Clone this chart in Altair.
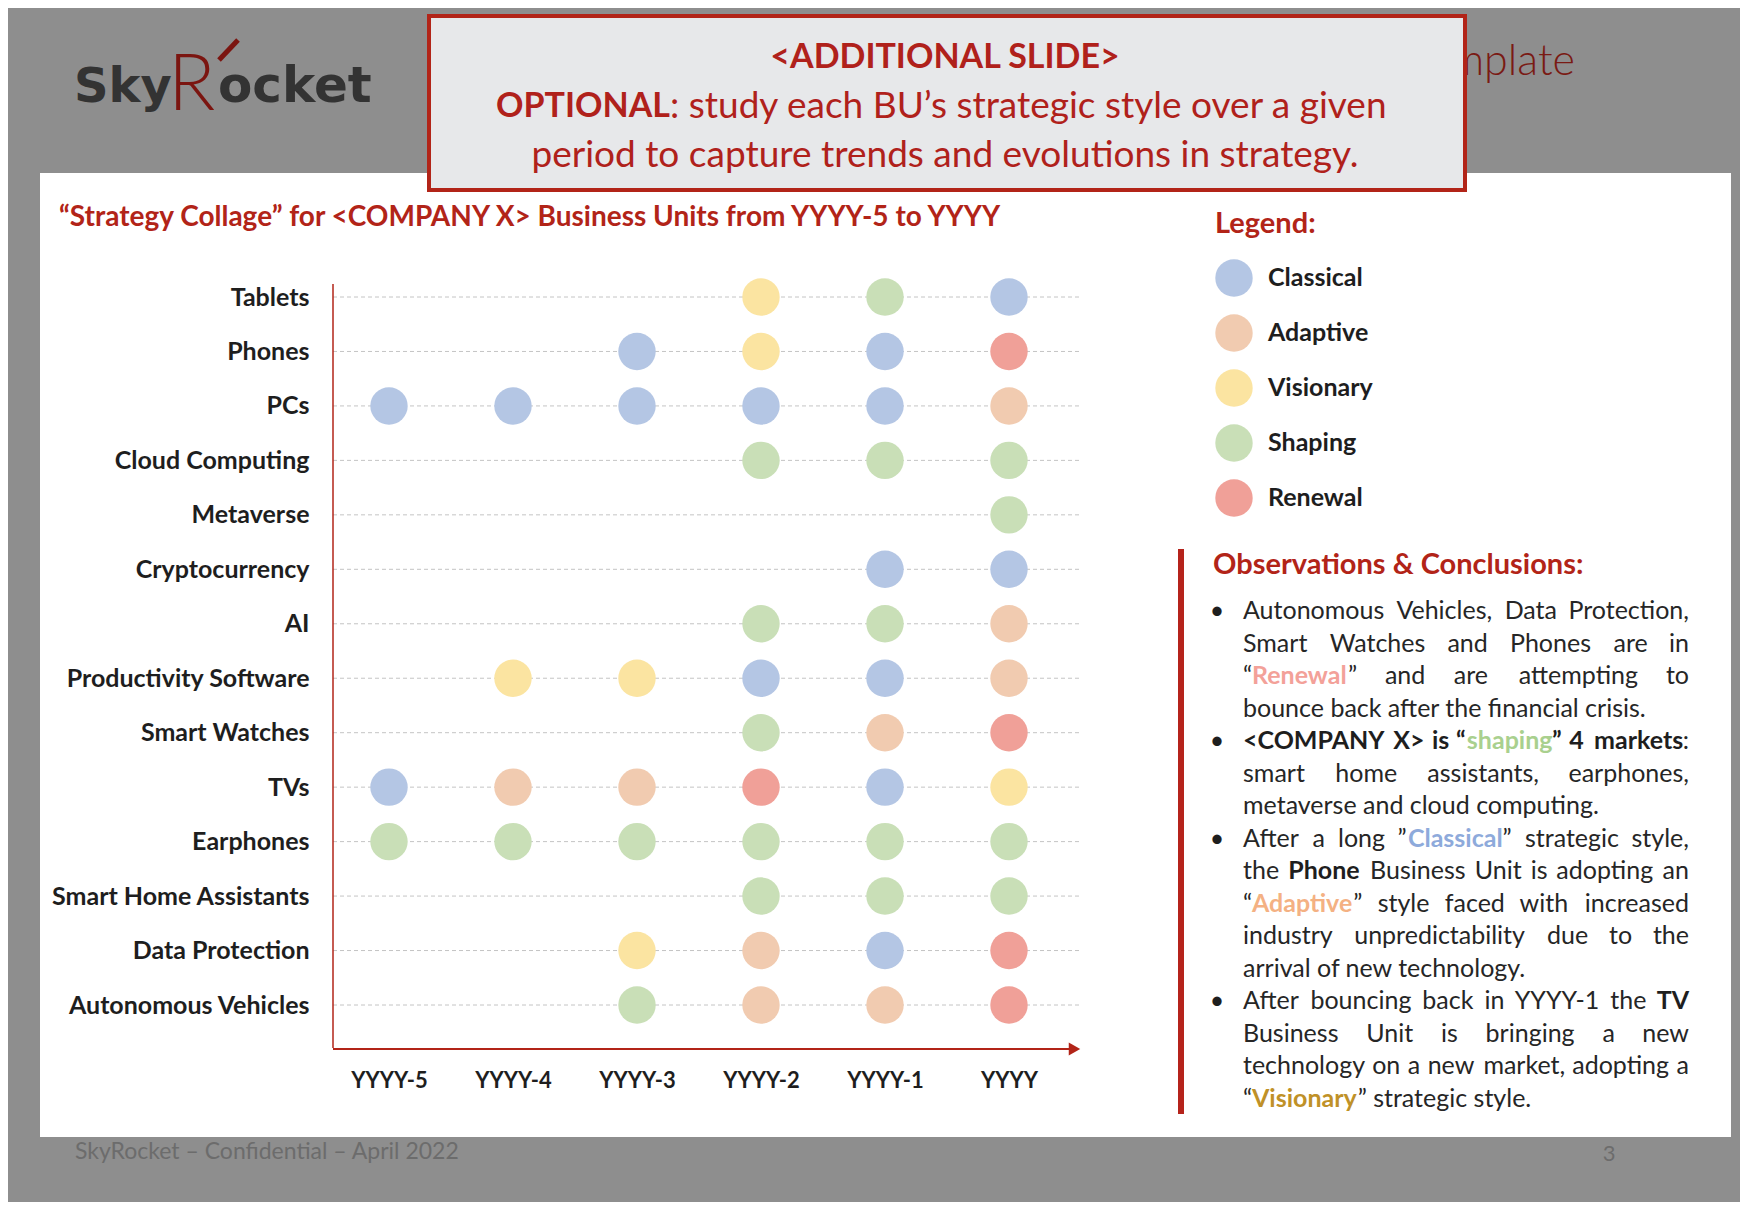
import altair as alt
import pandas as pd

# ---------------- chart values ----------------
years = ["YYYY-5", "YYYY-4", "YYYY-3", "YYYY-2", "YYYY-1", "YYYY"]
units = ["Tablets", "Phones", "PCs", "Cloud Computing", "Metaverse", "Cryptocurrency", "AI",
         "Productivity Software", "Smart Watches", "TVs", "Earphones", "Smart Home Assistants",
         "Data Protection", "Autonomous Vehicles"]
styles = ["Classical", "Adaptive", "Visionary", "Shaping", "Renewal"]
style_colors = ["#b4c6e4", "#f1cbb0", "#fbe4a1", "#c9dfb7", "#f0a098"]

tablets = [None, None, None, "Visionary", "Shaping", "Classical"]
phones = [None, None, "Classical", "Visionary", "Classical", "Renewal"]
pcs = ["Classical", "Classical", "Classical", "Classical", "Classical", "Adaptive"]
cloud = [None, None, None, "Shaping", "Shaping", "Shaping"]
metaverse = [None, None, None, None, None, "Shaping"]
crypto = [None, None, None, None, "Classical", "Classical"]
ai = [None, None, None, "Shaping", "Shaping", "Adaptive"]
productivity = [None, "Visionary", "Visionary", "Classical", "Classical", "Adaptive"]
watches = [None, None, None, "Shaping", "Adaptive", "Renewal"]
tvs = ["Classical", "Adaptive", "Adaptive", "Renewal", "Classical", "Visionary"]
earphones = ["Shaping", "Shaping", "Shaping", "Shaping", "Shaping", "Shaping"]
home_assistants = [None, None, None, "Shaping", "Shaping", "Shaping"]
data_protection = [None, None, "Visionary", "Adaptive", "Classical", "Renewal"]
autonomous = [None, None, "Shaping", "Adaptive", "Adaptive", "Renewal"]
unit_styles = [tablets, phones, pcs, cloud, metaverse, crypto, ai, productivity, watches,
               tvs, earphones, home_assistants, data_protection, autonomous]

# ---------------- texts ----------------
logo_parts = ["Sky", "R", "ocket"]
template_text = "Template"
box_line1 = "<ADDITIONAL SLIDE>"
box_line2_bold = "OPTIONAL"
box_line2_rest = ": study each BU’s strategic style over a given"
box_line3 = "period to capture trends and evolutions in strategy."
subtitle = "“Strategy Collage” for <COMPANY X> Business Units from YYYY-5 to YYYY"
legend_title = "Legend:"
obs_title = "Observations & Conclusions:"
footer = "SkyRocket – Confidential – April 2022"
page_no = "3"
obs_lines = [
    ([("Autonomous Vehicles, Data Protection,", "r")], True, True),
    ([("Smart Watches and Phones are in", "r")], True, False),
    ([("“", "r"), ("Renewal", "renewal"), ("” and are attempting to", "r")], True, False),
    ([("bounce back after the financial crisis.", "r")], False, False),
    ([("<COMPANY X> is “", "b"), ("shaping", "shaping"), ("” 4 markets", "b"), (":", "r")], True, True),
    ([("smart home assistants, earphones,", "r")], True, False),
    ([("metaverse and cloud computing.", "r")], False, False),
    ([("After a long ”", "r"), ("Classical", "classical"), ("” strategic style,", "r")], True, True),
    ([("the ", "r"), ("Phone", "b"), (" Business Unit is adopting an", "r")], True, False),
    ([("“", "r"), ("Adaptive", "adaptive"), ("” style faced with increased", "r")], True, False),
    ([("industry unpredictability due to the", "r")], True, False),
    ([("arrival of new technology.", "r")], False, False),
    ([("After bouncing back in YYYY-1 the ", "r"), ("TV", "b")], True, True),
    ([("Business Unit is bringing a new", "r")], True, False),
    ([("technology on a new market, adopting a", "r")], True, False),
    ([("“", "r"), ("Visionary", "visionary"), ("” strategic style.", "r")], False, False),
]

# ---------------- styling ----------------
RED = "#b22418"
DARK = "#1e1e1e"
FONT = "Lato"
STY = {"r": (False, "#262626"), "b": (True, DARK), "renewal": (True, "#f3a199"),
       "shaping": (True, "#a9d08e"), "classical": (True, "#8eaadb"),
       "adaptive": (True, "#f4b183"), "visionary": (True, "#bf9128")}
OBS_FS = 25
X0, X1 = 910, 1356
OBS_Y0, OBS_STEP = 327, 32.5
BULLET_X = 884
DOT = 1400

CW = {}
for ch, w in zip("abcdefghijklmnopqrstuvwxyz",
                 [.508, .565, .468, .565, .529, .331, .506, .565, .238, .235, .516, .238, .853,
                  .565, .566, .559, .565, .385, .433, .357, .565, .518, .76, .493, .518, .462]):
    CW[ch] = w
for ch, w in zip("ABCDEFGHIJKLMNOPQRSTUVWXYZ",
                 [.66, .63, .66, .74, .55, .53, .72, .75, .28, .38, .64, .49, .91, .75, .79, .6,
                  .79, .6, .52, .57, .72, .66, 1.0, .64, .61, .6]):
    CW[ch] = w
for ch in "0123456789":
    CW[ch] = .58
CW.update({" ": .2, ",": .21, ".": .21, ":": .23, ";": .23, "-": .33, "“": .36, "”": .36,
           "’": .2, "<": .58, ">": .58, "&": .68, "•": .35})


def tw(s, st):
    f = 1.03 if STY[st][0] else 1.0
    return sum(CW.get(c, .55) for c in s) * OBS_FS * f


def words_of(runs):
    words = [[]]
    for text, st in runs:
        parts = text.split(" ")
        for i, p in enumerate(parts):
            if i > 0:
                words.append([])
            if p:
                words[-1].append((p, st))
    return [w for w in words if w]


recs = []
for i, (runs, just, bullet) in enumerate(obs_lines):
    y = OBS_Y0 + i * OBS_STEP
    if bullet:
        recs.append(dict(x=BULLET_X, y=y, text="•", bold=False, align="center", color=DARK))
    if just:
        words = words_of(runs)
        ws = [sum(tw(p, st) for p, st in w) for w in words]
        n = len(words)
        gap = (X1 - X0 - sum(ws)) / (n - 1)
        for k, w in enumerate(words):
            if k < n / 2:
                x = X0 + sum(ws[:k]) + gap * k
                for p, st in w:
                    recs.append(dict(x=x, y=y, text=p, bold=STY[st][0], align="left", color=STY[st][1]))
                    x += tw(p, st)
            else:
                x = X1 - sum(ws[k + 1:]) - gap * (n - 1 - k)
                for p, st in reversed(w):
                    recs.append(dict(x=x, y=y, text=p, bold=STY[st][0], align="right", color=STY[st][1]))
                    x -= tw(p, st)
    else:
        x = X0
        for p, st in runs:
            recs.append(dict(x=x, y=y, text=p, bold=STY[st][0], align="left", color=STY[st][1]))
            x += tw(p, st)
runs_df = pd.DataFrame(recs)

rows = []
for u, seq in zip(units, unit_styles):
    for yr, st in zip(years, seq):
        if st:
            rows.append({"unit": u, "year": yr, "style": st})
dots = pd.DataFrame(rows)
grid_df = pd.DataFrame({"unit": units})
one = pd.DataFrame({"k": [0]})

PW, PH = 748, 764
x_scale = alt.Scale(type="point", domain=years, range=[56, 676], padding=0)
y_scale = alt.Scale(type="point", domain=units, range=[13, 721], padding=0)


def label(text, x, y, size, color, weight="normal", align="left", font=FONT, baseline="middle"):
    return alt.Chart(one).mark_text(text=text, font=font, fontSize=size, fontWeight=weight,
                                    color=color, align=align, baseline=baseline).encode(
        x=alt.value(x), y=alt.value(y))


panel = alt.Chart(one).mark_rect(color="white").encode(
    x=alt.value(-293), x2=alt.value(1398), y=alt.value(-111), y2=alt.value(853))

logo = [
    label(logo_parts[0], -259, -182, 48, "#333333", "bold", font="DejaVu Sans", baseline="alphabetic"),
    label(logo_parts[1], -165, -174, 78, "#7b1510", 300, baseline="alphabetic"),
    label(logo_parts[2], -115, -182, 50, "#333333", "bold", font="DejaVu Sans", baseline="alphabetic"),
    alt.Chart(one).mark_rule(color="#7b1510", strokeWidth=5).encode(
        x=alt.value(-114), x2=alt.value(-95), y=alt.value(-224), y2=alt.value(-244)),
]
template = label(template_text, 1242, -209, 43, "#7a1a14", 300, align="right", baseline="alphabetic")

box = alt.Chart(one).mark_rect(fill="#e7e8ea", stroke=RED, strokeWidth=4).encode(
    x=alt.value(96), x2=alt.value(1132), y=alt.value(-268), y2=alt.value(-94))
box_texts = [
    label(box_line1, 612, -226, 34, "#b0211b", "bold", align="center"),
    label(box_line2_bold, 337, -177, 34, "#b0211b", "bold", align="right"),
    label(box_line2_rest, 337, -177, 37, "#b0211b", "normal", align="left"),
    label(box_line3, 612, -128, 37, "#b0211b", "normal", align="center"),
]

sub = label(subtitle, -274, -66, 28, RED, "bold")
obs_head = label(obs_title, 880, 281, 29, RED, "bold")
foot = label(footer, -258, 868, 23, "#6c6c6c")
pnum = label(page_no, 1276, 870, 22, "#6c6c6c", align="center")

y_line = alt.Chart(one).mark_rule(color=RED, strokeWidth=1.5).encode(
    x=alt.value(0), y=alt.value(0), y2=alt.value(PH))
x_line = alt.Chart(one).mark_rule(color=RED, strokeWidth=2).encode(
    x=alt.value(0), x2=alt.value(738), y=alt.value(765))
arrow = alt.Chart(one).mark_point(shape="triangle-right", filled=True, size=175, color=RED,
                                  opacity=1).encode(x=alt.value(741.5), y=alt.value(765))
obs_bar = alt.Chart(one).mark_rule(color="#b5231b", strokeWidth=6).encode(
    x=alt.value(848), y=alt.value(265), y2=alt.value(830))

grid = alt.Chart(grid_df).mark_rule(color="#c4c4c4", strokeDash=[4, 3], strokeWidth=1).encode(
    y=alt.Y("unit:N", scale=y_scale, axis=None), x=alt.value(0), x2=alt.value(PW))

dots_layer = alt.Chart(dots).mark_circle(size=DOT, opacity=1).encode(
    x=alt.X("year:N", sort=years, scale=x_scale,
            axis=alt.Axis(title=None, orient="bottom", domain=False, ticks=False, grid=False,
                          labelFont=FONT, labelFontWeight="bold", labelFontSize=22,
                          labelColor=DARK, labelPadding=22, labelAngle=0, zindex=1)),
    y=alt.Y("unit:N", sort=units, scale=y_scale,
            axis=alt.Axis(title=None, domain=False, ticks=False, grid=False,
                          labelFont=FONT, labelFontWeight="bold", labelFontSize=25,
                          labelColor=DARK, labelPadding=24, labelLimit=500, zindex=1)),
    color=alt.Color("style:N", scale=alt.Scale(domain=styles, range=style_colors),
                    legend=alt.Legend(title=legend_title, orient="none", legendX=882, legendY=-74,
                                      direction="vertical", symbolType="circle", symbolSize=DOT,
                                      symbolStrokeWidth=0, symbolOpacity=1,
                                      labelFont=FONT, labelFontSize=25, labelFontWeight="bold",
                                      labelColor=DARK, labelOffset=15, rowPadding=17,
                                      labelLimit=400,
                                      titleFont=FONT, titleFontSize=29, titleFontWeight="bold",
                                      titleColor=RED, titlePadding=20, padding=0, zindex=1)),
)


def run_layer(df, bold, align):
    sub_df = df[(df["bold"] == bold) & (df["align"] == align)]
    return alt.Chart(sub_df).mark_text(font=FONT, fontSize=OBS_FS, fontWeight="bold" if bold else "normal",
                                       align=align, baseline="middle").encode(
        x=alt.X("x:Q", scale=None, axis=None),
        y=alt.Y("y:Q", scale=None, axis=None),
        text="text:N",
        color=alt.Color("color:N", scale=None, legend=None))


run_layers = []
for b in [False, True]:
    for a in ["left", "right", "center"]:
        if len(runs_df[(runs_df["bold"] == b) & (runs_df["align"] == a)]) > 0:
            run_layers.append(run_layer(runs_df, b, a))

chart = alt.layer(
    panel, *logo, template, box, *box_texts, sub, obs_head, foot, pnum,
    grid, y_line, x_line, arrow, obs_bar, dots_layer, *run_layers
).resolve_scale(
    x="independent", y="independent", color="independent"
).properties(
    width=PW, height=PH,
    padding={"left": 325, "top": 276, "right": 659, "bottom": 154},
    autosize=alt.AutoSizeParams(type="none"),
    background="#8e8e8e",
).configure_view(stroke=None)

chart.save("out.html", embed_options={"renderer": "svg", "actions": False})
